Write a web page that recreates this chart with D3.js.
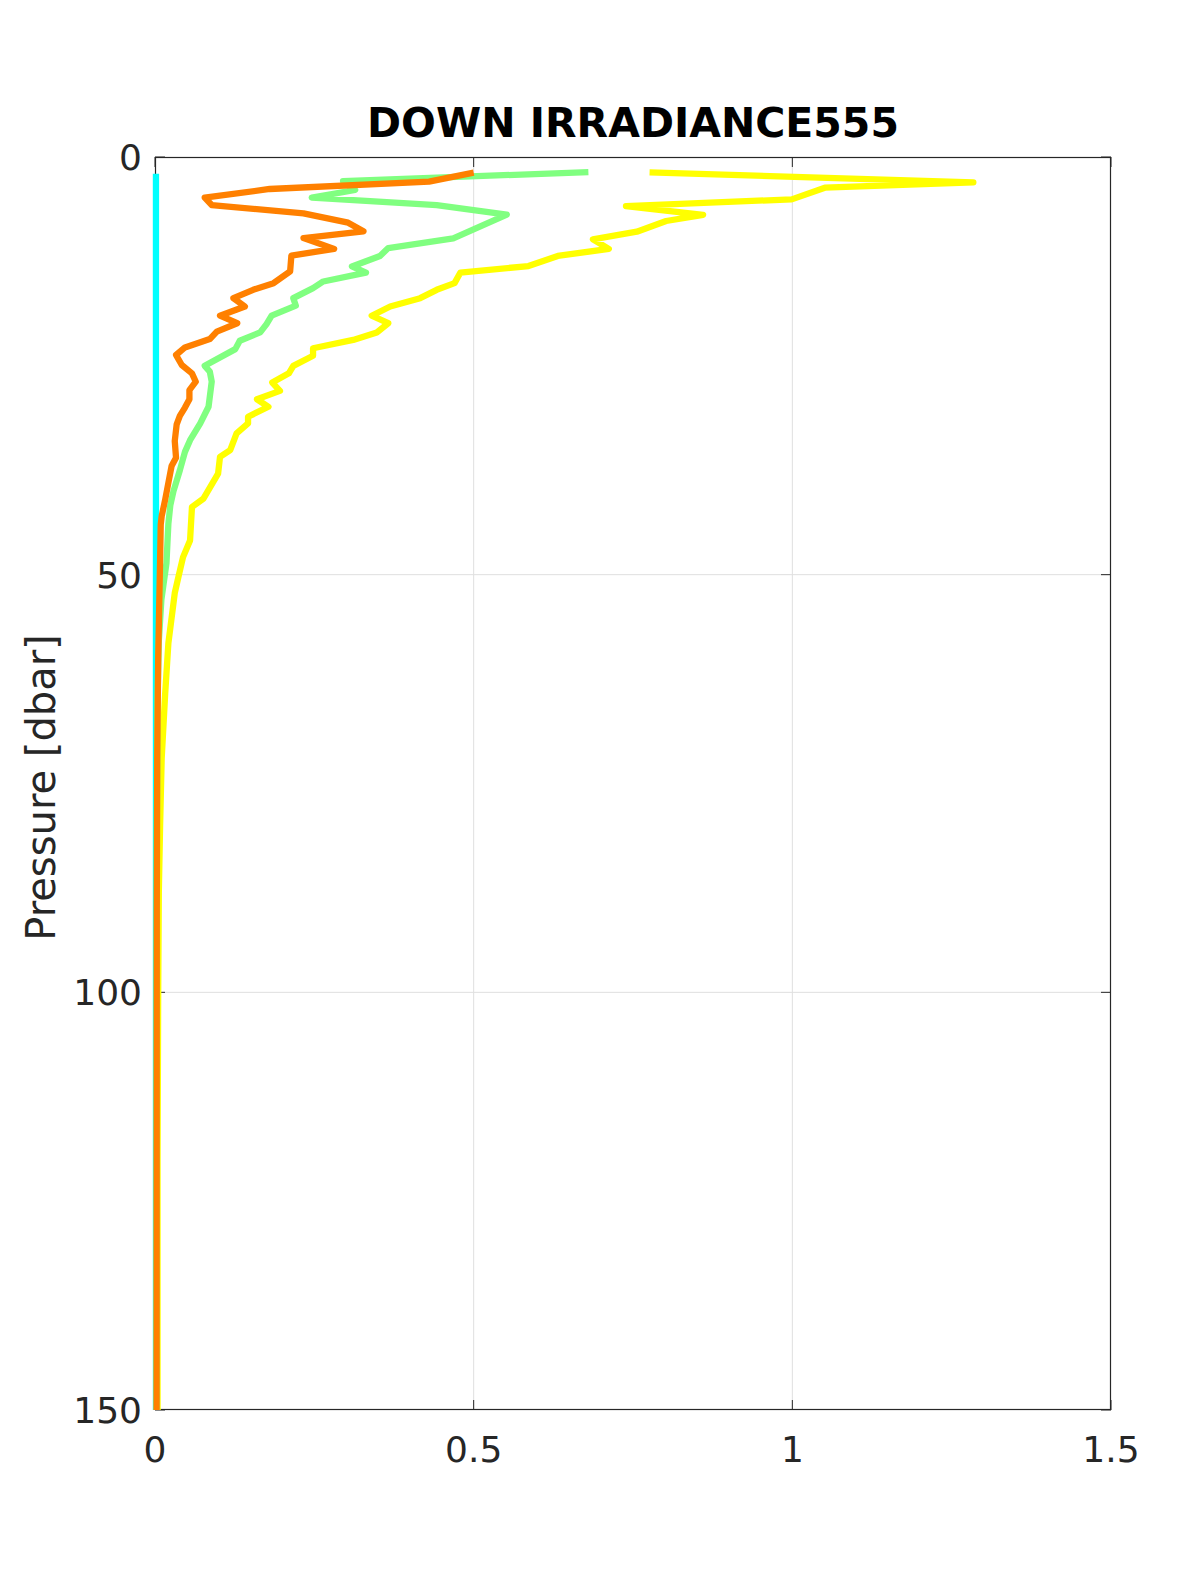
<!DOCTYPE html>
<html>
<head>
<meta charset="utf-8">
<script src="https://cdn.jsdelivr.net/npm/d3@7/dist/d3.min.js"></script>
<style>
  html, body { margin: 0; padding: 0; background: #fff; }
  svg { display: block; }
  text { font-family: "DejaVu Sans", sans-serif; }
</style>
</head>
<body>
<div id="chart"></div>
<script>
// ---- data (pressure in dbar, irradiance value) ----
const chartTitle = "DOWN IRRADIANCE555";
const yLabel = "Pressure [dbar]";
const xTicks = [0, 0.5, 1, 1.5];
const xTickLabels = ["0", "0.5", "1", "1.5"];
const yTicks = [0, 50, 100, 150];
const yTickLabels = ["0", "50", "100", "150"];

const cyanPressure = [2, 50, 100, 150];
const cyanValue    = [0.0015, 0.0015, 0.0015, 0.0015];

const yellowPressure = [1.84, 3.03, 3.67, 5.07, 5.87, 6.94, 7.66, 8.94, 9.85, 11.0, 11.85, 13.05, 13.85, 15.1, 15.9, 16.9, 17.9, 19.0, 19.9, 21.0, 21.9, 22.9, 23.8, 25.0, 25.9, 27.0, 28.0, 29.0, 29.9, 31.1, 31.9, 33.1, 35.1, 35.9, 37.9, 40.9, 41.9, 45.9, 47.9, 50.2, 52.2, 58.2, 64.2, 72, 80, 88, 100, 120, 150];
const yellowValue    = [0.776, 1.284, 1.051, 0.999, 0.739, 0.860, 0.802, 0.756, 0.687, 0.712, 0.632, 0.586, 0.479, 0.470, 0.442, 0.416, 0.369, 0.340, 0.366, 0.348, 0.311, 0.248, 0.248, 0.217, 0.210, 0.184, 0.196, 0.160, 0.178, 0.146, 0.146, 0.128, 0.118, 0.102, 0.099, 0.076, 0.058, 0.055, 0.044, 0.037, 0.031, 0.021, 0.016, 0.0105, 0.008, 0.006, 0.005, 0.004, 0.004];

const greenPressure = [1.8, 2.9, 3.95, 4.87, 5.75, 6.9, 9.73, 10.9, 11.85, 13.1, 13.85, 14.9, 15.7, 16.9, 17.8, 19.0, 20.0, 21.0, 22.0, 23.0, 25.0, 25.7, 26.9, 29.9, 31.9, 33.9, 35.3, 37.5, 40.0, 41.7, 43.9, 48.6, 53, 58, 65, 80, 150];
const greenValue    = [0.680, 0.295, 0.314, 0.246, 0.442, 0.552, 0.468, 0.366, 0.353, 0.309, 0.331, 0.264, 0.248, 0.217, 0.221, 0.183, 0.175, 0.165, 0.133, 0.126, 0.078, 0.086, 0.089, 0.084, 0.071, 0.055, 0.047, 0.039, 0.029, 0.024, 0.021, 0.018, 0.010, 0.006, 0.004, 0.003, 0.0025];

const orangePressure = [1.88, 2.95, 3.83, 4.87, 5.75, 6.75, 7.86, 8.9, 9.7, 11.0, 11.8, 13.7, 15.1, 15.9, 16.9, 17.9, 19.0, 19.9, 20.9, 21.8, 22.8, 23.7, 24.9, 25.9, 26.9, 27.9, 29.0, 30.0, 31.0, 32.0, 34.0, 36.0, 37.0, 39.0, 41.0, 43.0, 44.0, 48.2, 60, 72, 90, 150];
const orangeValue    = [0.500, 0.430, 0.180, 0.078, 0.089, 0.233, 0.303, 0.327, 0.233, 0.281, 0.214, 0.212, 0.186, 0.154, 0.123, 0.141, 0.102, 0.129, 0.097, 0.086, 0.047, 0.033, 0.042, 0.058, 0.064, 0.054, 0.054, 0.047, 0.039, 0.034, 0.031, 0.033, 0.026, 0.021, 0.016, 0.0105, 0.009, 0.008, 0.005, 0.0035, 0.0028, 0.0025];

const seriesList = [
  { name: "cyan",   p: cyanPressure,   v: cyanValue,   color: "#00FFFF" },
  { name: "yellow", p: yellowPressure, v: yellowValue, color: "#FFFF00" },
  { name: "green",  p: greenPressure,  v: greenValue,  color: "#80FF80" },
  { name: "orange", p: orangePressure, v: orangeValue, color: "#FF8000" }
];

(function () {
  // ---- layout ----
  const W = 1200, H = 1575;
  const pL = 155, pR = 1111, pT = 157, pB = 1410;
  const axisColor = "#262626";

  const svg = d3.select("#chart").append("svg").attr("width", W).attr("height", H);

  const x = d3.scaleLinear().domain([0, 1.5]).range([pL, pR]);
  const y = d3.scaleLinear().domain([0, 150]).range([pT, pB]);

  // grid
  const grid = svg.append("g");
  grid.selectAll("line.gx").data(xTicks.slice(1, -1)).enter().append("line")
    .attr("x1", d => x(d)).attr("x2", d => x(d)).attr("y1", pT).attr("y2", pB)
    .attr("stroke", "#dfdfdf").attr("stroke-width", 1);
  grid.selectAll("line.gy").data(yTicks.slice(1, -1)).enter().append("line")
    .attr("y1", d => y(d)).attr("y2", d => y(d)).attr("x1", pL).attr("x2", pR)
    .attr("stroke", "#dfdfdf").attr("stroke-width", 1);

  // axes box
  svg.append("rect").attr("x", pL + 0.5).attr("y", pT + 0.5)
    .attr("width", pR - pL - 1).attr("height", pB - pT - 1)
    .attr("fill", "none").attr("stroke", axisColor).attr("stroke-width", 1.2);

  // ticks (inside, both sides)
  const tl = 10;
  const ax = svg.append("g");
  xTicks.forEach(t => {
    ax.append("line").attr("x1", x(t)).attr("x2", x(t)).attr("y1", pB).attr("y2", pB - tl).attr("stroke", axisColor);
    ax.append("line").attr("x1", x(t)).attr("x2", x(t)).attr("y1", pT).attr("y2", pT + tl).attr("stroke", axisColor);
  });
  yTicks.forEach(t => {
    ax.append("line").attr("y1", y(t)).attr("y2", y(t)).attr("x1", pL).attr("x2", pL + tl).attr("stroke", axisColor);
    ax.append("line").attr("y1", y(t)).attr("y2", y(t)).attr("x1", pR).attr("x2", pR - tl).attr("stroke", axisColor);
  });

  // lines (not clipped, drawn over the axes)
  const lineGen = d3.line().x(d => x(d[1])).y(d => y(d[0]));
  const lg = svg.append("g");
  seriesList.forEach(s => {
    const pts = s.p.map((p, i) => [p, s.v[i]]);
    lg.append("path").datum(pts)
      .attr("d", lineGen)
      .attr("fill", "none")
      .attr("stroke", s.color)
      .attr("stroke-width", 6.3)
      .attr("stroke-linejoin", "round")
      .attr("stroke-linecap", "butt");
  });

  // tick labels
  svg.selectAll("text.xt").data(xTicks).enter().append("text")
    .attr("x", d => x(d)).attr("y", pB + 52)
    .attr("text-anchor", "middle").attr("font-size", 36).attr("fill", axisColor)
    .text((d, i) => xTickLabels[i]);
  svg.selectAll("text.yt").data(yTicks).enter().append("text")
    .attr("x", pL - 13).attr("y", d => y(d) + 13)
    .attr("text-anchor", "end").attr("font-size", 36).attr("fill", axisColor)
    .text((d, i) => yTickLabels[i]);

  // y label
  svg.append("text")
    .attr("transform", `translate(55, ${(pT + pB) / 2 + 4}) rotate(-90)`)
    .attr("text-anchor", "middle").attr("font-size", 40).attr("fill", axisColor)
    .text(yLabel);

  // title
  svg.append("text")
    .attr("x", (pL + pR) / 2).attr("y", 137)
    .attr("text-anchor", "middle").attr("font-size", 41).attr("font-weight", "bold").attr("fill", "#000")
    .text(chartTitle);
})();
</script>
</body>
</html>
